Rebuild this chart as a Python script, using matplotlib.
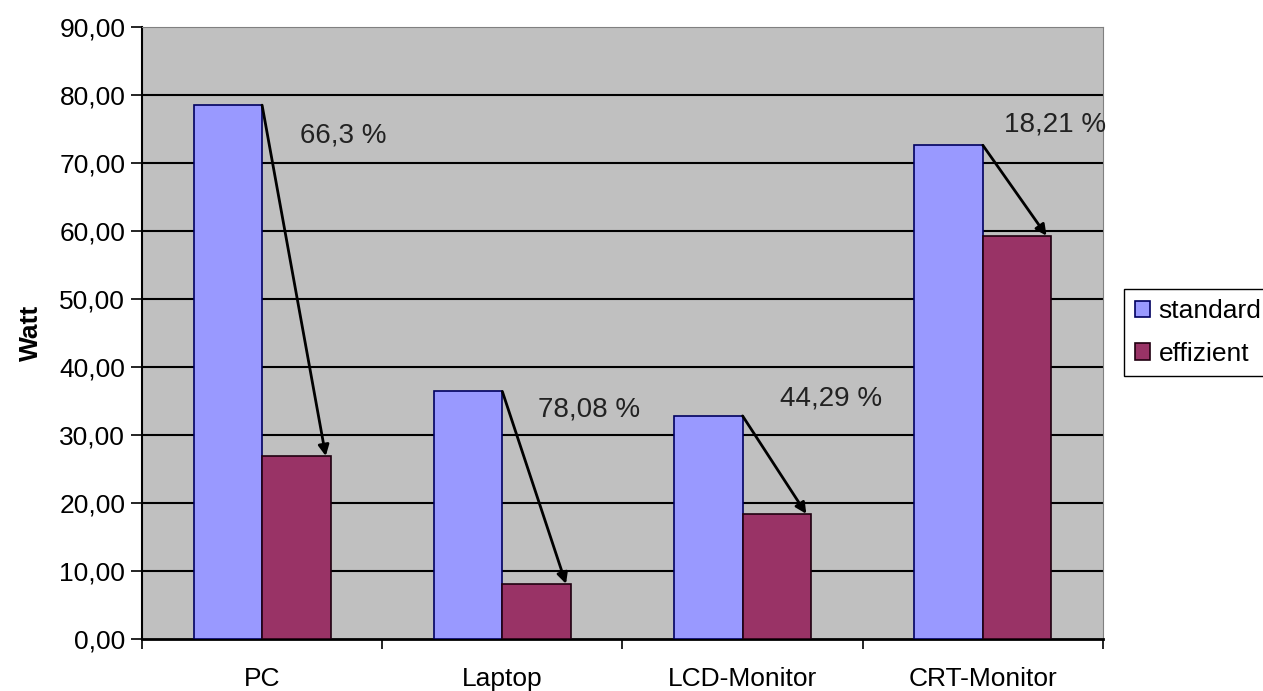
import numpy as np
from matplotlib import pyplot as plt
import matplotlib

matplotlib.rcParams.update({
    "font.family": ["Liberation Sans", "DejaVu Sans"],
    "xtick.labelsize": 19,
    "ytick.labelsize": 19,
})

categories = ["PC", "Laptop", "LCD-Monitor", "CRT-Monitor"]
standard = [78.5, 36.4, 32.8, 72.6]
effizient = [26.9, 8.1, 18.4, 59.3]
savings = ["66,3 %", "78,08 %", "44,29 %", "18,21 %"]
label_pos = [(0.158, 74.1), (1.15, 33.7), (2.154, 35.4), (3.09, 75.7)]
y_ticks = np.arange(0, 91, 10)

fig = plt.figure(figsize=(12.63, 6.91), dpi=100)
ax = fig.add_axes([0.1124, 0.0753, 0.7609, 0.8857])
ax.set_facecolor('#c0c0c0')

x = np.arange(len(categories))
w = 0.285
ax.bar(x - w / 2, standard, w, color='#9999ff', edgecolor='#000060', linewidth=1.2,
       label='standard', zorder=3)
ax.bar(x + w / 2, effizient, w, color='#993366', edgecolor='#200010', linewidth=1.2,
       label='effizient', zorder=3)

for i in range(len(categories)):
    ax.annotate('', xy=(x[i] + w - 0.02, effizient[i]), xytext=(x[i], standard[i]),
                arrowprops=dict(arrowstyle='-|>', color='black', lw=2,
                                mutation_scale=16, shrinkA=0, shrinkB=0),
                zorder=5)
    ax.text(label_pos[i][0], label_pos[i][1], savings[i], fontsize=20,
            color='#222222', ha='left', va='center', zorder=6)

ax.set_xlim(-0.5, 3.5)
ax.set_ylim(0, 90)
ax.set_yticks(y_ticks)
ax.set_yticklabels([f"{v:.2f}".replace('.', ',') for v in y_ticks])
for v in y_ticks[1:-1]:
    ax.axhline(v, color='black', lw=1.5, zorder=1)

ax.set_xticks(np.arange(-0.5, 3.6, 1))
ax.set_xticklabels([])
ax.set_xticks(x, minor=True)
ax.set_xticklabels(categories, minor=True)
ax.tick_params(axis='x', which='major', length=7, width=1.2, direction='out')
ax.tick_params(axis='x', which='minor', length=0, pad=20)
ax.tick_params(axis='y', length=8, width=1.2, direction='out', pad=4)

ax.spines['left'].set_linewidth(1.5)
ax.spines['bottom'].set_linewidth(2)
ax.spines['top'].set_color('#808080')
ax.spines['right'].set_color('#808080')

ax.set_ylabel('Watt', fontsize=19, fontweight='bold', labelpad=12)

fig.legend(loc='upper left', bbox_to_anchor=(0.89, 0.582), fontsize=19,
           frameon=True, fancybox=False, edgecolor='black', framealpha=1,
           handlelength=0.6, handleheight=0.6, handletextpad=0.3,
           labelspacing=0.7, borderpad=0.4, borderaxespad=0)

plt.savefig('out.png', dpi=100)
